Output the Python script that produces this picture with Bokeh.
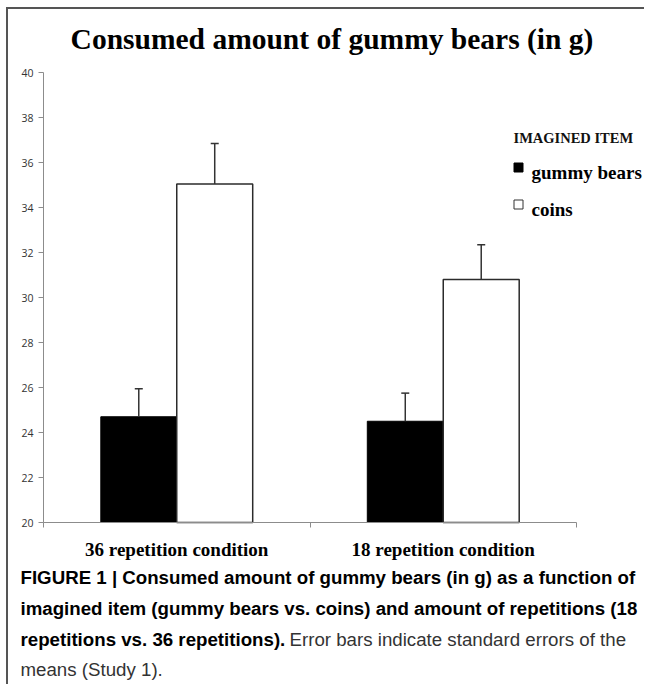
import numpy as np
from bokeh.plotting import figure
from bokeh.models import (Range1d, FixedTicker, Label, Whisker, TeeHead,
                          ColumnDataSource)
from bokeh.embed import file_html
from bokeh.resources import INLINE

# ---------------- data ----------------
title_text = "Consumed amount of gummy bears (in g)"
conditions = ["36 repetition condition", "18 repetition condition"]
items = ["gummy bears", "coins"]
gummy_means = [24.7, 24.5]
gummy_se = [1.25, 1.25]
coin_means = [35.05, 30.8]
coin_se = [1.8, 1.55]
y_ticks = [20, 22, 24, 26, 28, 30, 32, 34, 36, 38, 40]
legend_title = "IMAGINED ITEM"
caption_bold = ["FIGURE 1 | Consumed amount of gummy bears (in g) as a function of",
                "imagined item (gummy bears vs. coins) and amount of repetitions (18",
                "repetitions vs. 36 repetitions)."]
caption_regular = [" Error bars indicate standard errors of the", "means (Study 1)."]

# ---------------- layout (pixels) ----------------
W, H = 644, 684
X_AX = 43        # pixel x of the y axis
Y_AX = 522       # pixel y of the x axis
KX = 266.5       # px per category
KY = 22.5        # px per gram
Y0 = y_ticks[0]
Y1 = y_ticks[-1]

def dx(px):
    return (px - X_AX) / KX

def dy(py):
    return Y0 + (Y_AX - py) / KY

p = figure(width=W, height=H, title=None,
           x_range=Range1d(dx(0), dx(W)),
           y_range=Range1d(dy(H), dy(0)),
           output_backend="svg", toolbar_location=None, tools="",
           min_border_left=0, min_border_right=0, min_border_top=0,
           min_border_bottom=0)
p.outline_line_color = None
p.xgrid.visible = False
p.ygrid.visible = False
p.background_fill_color = "white"
p.border_fill_color = "white"

axis_gray = "#8c8c8c"

# figure frame (left & top border) as thin filled strips
p.quad(left=[dx(5.5), dx(5.5)], right=[dx(7.5), dx(W)],
       top=[dy(6.5), dy(6.5)], bottom=[dy(H), dy(8.5)],
       fill_color="#555555", line_color=None)

# y axis
ya = p.yaxis[0]
ya.fixed_location = 0
ya.ticker = FixedTicker(ticks=y_ticks)
ya.bounds = (Y0, Y1)
ya.axis_line_color = axis_gray
ya.major_tick_line_color = axis_gray
ya.major_tick_out = 5
ya.major_tick_in = 0
ya.minor_tick_line_color = None
ya.major_label_standoff = 5
ya.major_label_text_font = "Open Sans"
ya.major_label_text_font_size = "10.5px"
ya.major_label_text_color = "#333333"

# x axis
n = len(conditions)
centers = np.arange(n) + 0.5
xa = p.xaxis[0]
xa.fixed_location = Y0
xa.ticker = FixedTicker(ticks=list(centers), minor_ticks=list(np.arange(n + 1)))
xa.bounds = (0, n)
xa.axis_line_color = axis_gray
xa.major_tick_line_color = None
xa.major_tick_out = 0
xa.major_tick_in = 0
xa.minor_tick_line_color = axis_gray
xa.minor_tick_out = 5
xa.minor_tick_in = 0
xa.major_label_overrides = {float(c): lab for c, lab in zip(centers, conditions)}
xa.major_label_standoff = 11
xa.major_label_text_font = "Liberation Serif"
xa.major_label_text_font_style = "bold"
xa.major_label_text_font_size = "19px"
xa.major_label_text_color = "black"

# bars
half = 0.1425
bw = 0.285
src_g = ColumnDataSource(dict(x=centers - half, top=gummy_means,
                              upper=np.array(gummy_means) + np.array(gummy_se)))
src_c = ColumnDataSource(dict(x=centers + half, top=coin_means,
                              upper=np.array(coin_means) + np.array(coin_se)))
p.vbar(x="x", top="top", bottom=Y0, width=bw, source=src_g,
       fill_color="black", line_color="black", line_width=1)
p.vbar(x="x", top="top", bottom=Y0, width=bw, source=src_c,
       fill_color="white", line_color="#2b2b2b", line_width=1.5)

for src in (src_g, src_c):
    w = Whisker(source=src, base="x", lower="top", upper="upper",
                dimension="height", line_color="#333333", line_width=1.5,
                upper_head=TeeHead(size=8, line_color="#333333", line_width=1.5),
                lower_head=None, level="overlay")
    p.add_layout(w)

# legend
p.scatter([dx(518)], [dy(167)], marker="square", size=9,
          fill_color="black", line_color="black")
p.scatter([dx(518)], [dy(204)], marker="square", size=9,
          fill_color="white", line_color="#333333", line_width=1)
p.add_layout(Label(x=dx(513), y=dy(137), text=legend_title, text_font="Liberation Serif",
                   text_font_style="bold", text_font_size="14.5px",
                   text_baseline="middle", text_align="left", text_color="#111111"))
for txt, py in zip(items, [172, 209]):
    p.add_layout(Label(x=dx(531), y=dy(py), text=txt, text_font="Liberation Serif",
                       text_font_style="bold", text_font_size="19px",
                       text_baseline="middle", text_align="left", text_color="black"))

# title
p.add_layout(Label(x=dx(331.5), y=dy(38), text=title_text, text_font="Liberation Serif",
                   text_font_style="bold", text_font_size="29.5px",
                   text_baseline="alphabetic", text_align="center", text_color="black"))

# caption
cap_y = [577, 608, 639, 669]
cap_x = 20
for txt, py in zip(caption_bold, cap_y[:3]):
    p.add_layout(Label(x=dx(cap_x), y=dy(py), text=txt, text_font="Liberation Sans",
                       text_font_style="bold", text_font_size="18.7px",
                       text_baseline="middle", text_align="left", text_color="black"))
p.add_layout(Label(x=dx(289), y=dy(cap_y[2]), text=caption_regular[0], text_font="Liberation Sans",
                   text_font_size="18.7px", text_baseline="middle", text_align="left",
                   text_color="#333333"))
p.add_layout(Label(x=dx(cap_x), y=dy(cap_y[3]), text=caption_regular[1], text_font="Liberation Sans",
                   text_font_size="18.7px", text_baseline="middle", text_align="left",
                   text_color="#333333"))

open("out.html", "w").write(file_html(p, INLINE))
